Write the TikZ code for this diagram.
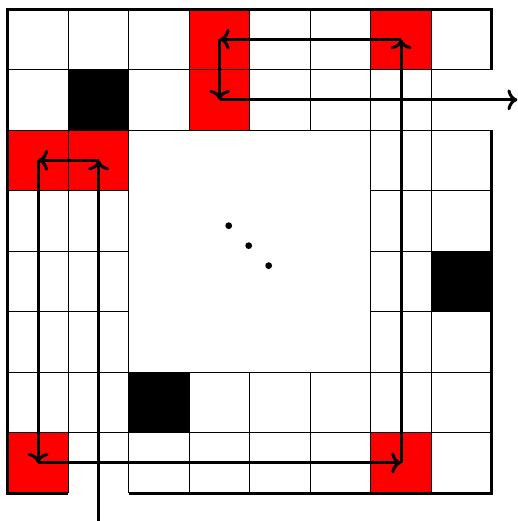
\documentclass[tikz,border=0pt]{standalone}
\usepackage{tikz}
\usetikzlibrary{arrows.meta}
\usepackage{xcolor}
\definecolor{cellred}{RGB}{255,0,0}

\begin{document}
\begin{tikzpicture}[
  cellline/.style={line width=0.5pt},
  wall/.style={line width=1.4pt, line join=miter},
  route/.style={->, line width=1.4pt}
]
  \useasboundingbox (-0.13,-0.46) rectangle (8.43,8.15);
  \foreach \x/\y in {3/7, 3/6, 6/7, 0/5, 1/5, 0/0, 6/0}
    \fill[cellred] (\x,\y) rectangle ++(1,1);
  \foreach \x/\y in {1/6, 7/3, 2/1}
    \fill[black] (\x,\y) rectangle ++(1,1);
  \foreach \i in {1,...,7} {
    \draw[cellline] (\i,0) -- (\i,8);
    \draw[cellline] (0,\i) -- (8,\i);
  }
  \fill[white] (2,2) rectangle (6,6);
  \draw[cellline] (2,2) rectangle (6,6);
  \draw[wall] (2,0) -- (8,0) -- (8,6);
  \draw[wall] (8,7) -- (8,8) -- (0,8) -- (0,0) -- (1,0);
  \coordinate (entry) at (1.5,-0.46);
  \coordinate (t1) at (1.5,5.5);
  \coordinate (t2) at (0.5,5.5);
  \coordinate (t3) at (0.5,0.5);
  \coordinate (t4) at (6.5,0.5);
  \coordinate (t5) at (6.5,7.5);
  \coordinate (t6) at (3.5,7.5);
  \coordinate (t7) at (3.5,6.5);
  \coordinate (exit) at (8.42,6.5);
  \foreach \a/\b in {entry/t1, t1/t2, t2/t3, t3/t4, t4/t5, t5/t6, t6/t7, t7/exit}
    \draw[route] (\a) -- (\b);
  \foreach \x/\y in {3.65/4.42, 3.98/4.09, 4.31/3.76}
    \fill (\x,\y) circle (1.6pt);
\end{tikzpicture}
\end{document}
